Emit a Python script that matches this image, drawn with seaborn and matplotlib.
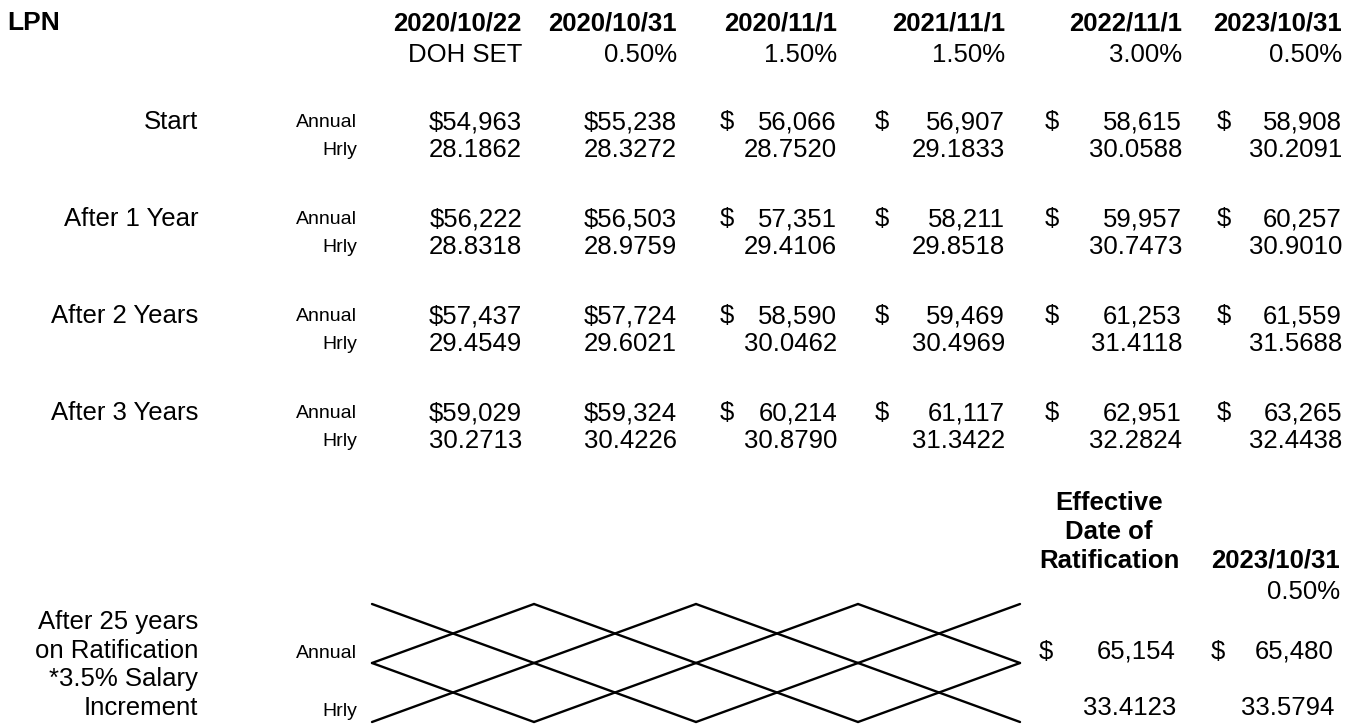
import matplotlib
matplotlib.use("Agg")
import matplotlib.pyplot as plt
import seaborn as sns
import pandas as pd

# ---------------- data ----------------
title = "LPN"
dates = ["2020/10/22", "2020/10/31", "2020/11/1", "2021/11/1", "2022/11/1", "2023/10/31"]
increases = ["DOH SET", "0.50%", "1.50%", "1.50%", "3.00%", "0.50%"]
steps = ["Start", "After 1 Year", "After 2 Years", "After 3 Years"]
annual = [
    [54963, 55238, 56066, 56907, 58615, 58908],
    [56222, 56503, 57351, 58211, 59957, 60257],
    [57437, 57724, 58590, 59469, 61253, 61559],
    [59029, 59324, 60214, 61117, 62951, 63265],
]
hourly = [
    [28.1862, 28.3272, 28.7520, 29.1833, 30.0588, 30.2091],
    [28.8318, 28.9759, 29.4106, 29.8518, 30.7473, 30.9010],
    [29.4549, 29.6021, 30.0462, 30.4969, 31.4118, 31.5688],
    [30.2713, 30.4226, 30.8790, 31.3422, 32.2824, 32.4438],
]
rat_label = "After 25 years\non Ratification\n*3.5% Salary\nIncrement"
rat_headers = ["Effective\nDate of\nRatification", "2023/10/31"]
rat_increase = ["", "0.50%"]
rat_annual = [65154, 65480]
rat_hourly = [33.4123, 33.5794]
crossed_cols = 4   # struck-out cells (columns) in the ratification rows
crossed_rows = 2

# ---------------- layout (pixels) ----------------
W, H = 1357, 725
col_right = [522, 677, 837, 1005, 1182, 1342]
dollar_left = [None, None, 720, 875, 1045, 1217]
attached_dollar = [True, True, False, False, False, False]
label_right = 198
sub_right = 357
y_head1, y_head2 = 23, 55
y_groups = [122, 219, 316, 413]
hr_off = 28

sns.set_theme(style="white")
plt.rcParams["font.family"] = ["Liberation Sans", "DejaVu Sans"]

fig = plt.figure(figsize=(W / 100, H / 100), dpi=100)
ax = fig.add_axes([0, 0, 1, 1])
ax.set_xlim(0, W)
ax.set_ylim(H, 0)
ax.axis("off")

FS = 18.5
FS_SMALL = 14.0
KW = dict(va="center", color="black")

ax.text(7, y_head1, title, ha="left", fontsize=FS + 0.5, fontweight="bold", **KW)
for j, (d, inc) in enumerate(zip(dates, increases)):
    ax.text(col_right[j], y_head1, d, ha="right", fontsize=FS, fontweight="bold", **KW)
    ax.text(col_right[j], y_head2, inc, ha="right", fontsize=FS, **KW)

for i, step in enumerate(steps):
    ya = y_groups[i]
    yh = ya + hr_off
    ax.text(label_right, ya, step, ha="right", fontsize=FS, **KW)
    ax.text(sub_right, ya, "Annual", ha="right", fontsize=FS_SMALL, **KW)
    ax.text(sub_right, yh, "Hrly", ha="right", fontsize=FS_SMALL, **KW)
    for j in range(len(dates)):
        if attached_dollar[j]:
            ax.text(col_right[j], ya, f"${annual[i][j]:,}", ha="right", fontsize=FS, **KW)
        else:
            ax.text(dollar_left[j], ya, "$", ha="left", fontsize=FS, **KW)
            ax.text(col_right[j], ya, f"{annual[i][j]:,}", ha="right", fontsize=FS, **KW)
        ax.text(col_right[j], yh, f"{hourly[i][j]:.4f}", ha="right", fontsize=FS, **KW)

# ratification block
ax.text(label_right, 665, rat_label, ha="right", multialignment="right",
        fontsize=FS, linespacing=1.26, **KW)
ax.text(sub_right, 653, "Annual", ha="right", fontsize=FS_SMALL, **KW)
ax.text(sub_right, 712, "Hrly", ha="right", fontsize=FS_SMALL, **KW)

ax.text(1109, 532, rat_headers[0], ha="center", multialignment="center",
        fontsize=FS, fontweight="bold", linespacing=1.24, **KW)
ax.text(1340, 560, rat_headers[1], ha="right", fontsize=FS, fontweight="bold", **KW)
ax.text(1340, 592, rat_increase[1], ha="right", fontsize=FS, **KW)
rat_right = [1176, 1334]
rat_dollar = [1039, 1211]
for k in range(2):
    ax.text(rat_dollar[k], 652, "$", ha="left", fontsize=FS, **KW)
    ax.text(rat_right[k], 652, f"{rat_annual[k]:,}", ha="right", fontsize=FS, **KW)
    ax.text(rat_right[k], 708, f"{rat_hourly[k]:.4f}", ha="right", fontsize=FS, **KW)

# crossed-out cells (X in every cell)
x0, x1 = 372, 1020
y0, y1 = 604, 722
cw = (x1 - x0) / crossed_cols
ch = (y1 - y0) / crossed_rows
rows = []
uid = 0
for c in range(crossed_cols):
    for r in range(crossed_rows):
        l, rr = x0 + c * cw, x0 + (c + 1) * cw
        t, b = y0 + r * ch, y0 + (r + 1) * ch
        rows += [dict(x=l, y=t, u=uid), dict(x=rr, y=b, u=uid)]
        uid += 1
        rows += [dict(x=l, y=b, u=uid), dict(x=rr, y=t, u=uid)]
        uid += 1
df = pd.DataFrame(rows)
sns.lineplot(data=df, x="x", y="y", units="u", estimator=None, sort=False,
             color="black", linewidth=1.7, ax=ax, legend=False)
ax.set_xlim(0, W)
ax.set_ylim(H, 0)
ax.axis("off")

fig.savefig("out.png", dpi=100, facecolor="white")
